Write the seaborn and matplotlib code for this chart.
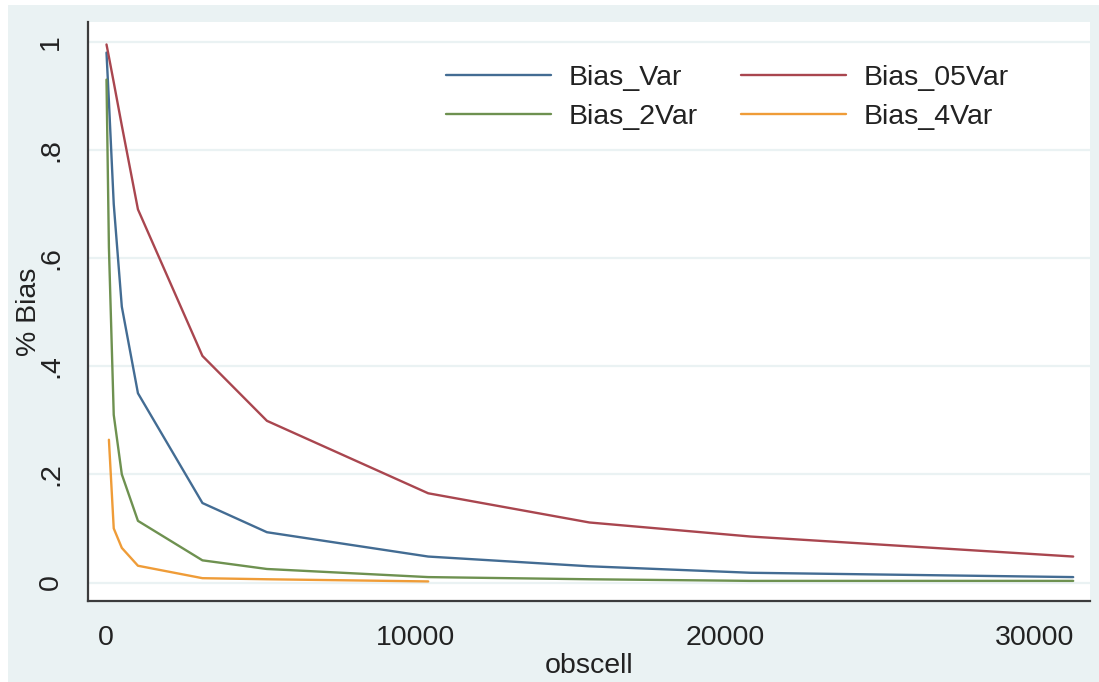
import numpy as np
import pandas as pd
import matplotlib
matplotlib.use("Agg")
import matplotlib.pyplot as plt
import seaborn as sns
from matplotlib.lines import Line2D
from matplotlib.patches import Rectangle

# Observations per cell and the share of bias under each variance setting
obscell = [26, 104, 260, 521, 1042, 3125, 5208, 10417, 15625, 20833, 31250]
bias_var = [0.98, 0.89, 0.70, 0.51, 0.35, 0.147, 0.093, 0.048, 0.030, 0.018, 0.010]
bias_05var = [0.995, 0.972, 0.925, 0.845, 0.69, 0.419, 0.299, 0.165, 0.111, 0.085, 0.048]
bias_2var = [0.93, 0.62, 0.31, 0.20, 0.114, 0.041, 0.025, 0.010, 0.006, 0.003, 0.003]
bias_4var = [np.nan, 0.264, 0.10, 0.064, 0.031, 0.008, 0.006, 0.002, np.nan, np.nan, np.nan]

series_names = ["Bias_Var", "Bias_05Var", "Bias_2Var", "Bias_4Var"]
series_values = [bias_var, bias_05var, bias_2var, bias_4var]
series_colors = ["#436c93", "#a9464f", "#6e9150", "#ef9c38"]

ytick_vals = [0, 0.2, 0.4, 0.6, 0.8, 1.0]
ytick_labels = ["0", ".2", ".4", ".6", ".8", "1"]
xtick_vals = [0, 10000, 20000, 30000]
xtick_labels = ["0", "10000", "20000", "30000"]

df = pd.concat(
    [pd.DataFrame({"obscell": obscell, "bias": vals, "series": name})
     for name, vals in zip(series_names, series_values)],
    ignore_index=True,
).dropna()

palette = dict(zip(series_names, series_colors))

sns.set_theme(style="white")
plt.rcParams["font.family"] = ["Liberation Sans", "DejaVu Sans"]

W, H = 1099, 682
BG = "#EAF2F3"
INK = "#222222"
AXC = "#3c3c3c"
FS = 20.5

fig = plt.figure(figsize=(W / 100, H / 100), dpi=100)
fig.patch.set_facecolor("white")
fig.patches.append(Rectangle((8 / W, 0), 1 - 8 / W, 1 - 5 / H, transform=fig.transFigure,
                             facecolor=BG, edgecolor="none", zorder=-10))

left, right, top, bottom = 87.7, 1090, 21.7, 601
ax = fig.add_axes([left / W, 1 - bottom / H, (right - left) / W, (bottom - top) / H])
ax.set_facecolor("white")

sns.lineplot(data=df, x="obscell", y="bias", hue="series", hue_order=series_names,
             palette=palette, linewidth=1.7, legend=False, estimator=None, ax=ax)

ax.set_xlim(-581, 31793)
ax.set_ylim(-0.0342, 1.0371)

ax.set_yticks(ytick_vals)
ax.set_yticklabels(ytick_labels, rotation=90, va="center")
ax.set_xticks(xtick_vals)
ax.set_xticklabels(xtick_labels)

ax.yaxis.grid(True, color=BG, linewidth=1.6)
ax.xaxis.grid(False)
ax.set_axisbelow(True)

for side in ["top", "right"]:
    ax.spines[side].set_visible(False)
for side in ["left", "bottom"]:
    ax.spines[side].set_color(AXC)
    ax.spines[side].set_linewidth(1.6)

ax.tick_params(axis="both", which="major", length=8.5, width=1.5, color=AXC,
               labelsize=FS, labelcolor=INK, direction="out")
ax.tick_params(axis="x", pad=8.5)
ax.tick_params(axis="y", pad=8.5)

ax.set_xlabel("obscell", fontsize=FS, color=INK)
ax.set_ylabel("% Bias", fontsize=FS, color=INK)
ax.xaxis.set_label_coords(0.5, -0.0906)
ax.yaxis.set_label_coords(-0.0456, 0.5)

handle_order = ["Bias_Var", "Bias_2Var", "Bias_05Var", "Bias_4Var"]
handles = [Line2D([0], [0], color=palette[n], linewidth=1.7) for n in handle_order]
leg = fig.legend(handles, handle_order, ncol=2, loc="upper left",
                 bbox_to_anchor=(445.7 / W, 1 - 65 / H), frameon=False,
                 borderpad=0, borderaxespad=0, handlelength=3.7, handletextpad=0.63,
                 columnspacing=1.5, labelspacing=0.44, fontsize=FS)
for t in leg.get_texts():
    t.set_color(INK)

fig.savefig("out.png", dpi=100)
